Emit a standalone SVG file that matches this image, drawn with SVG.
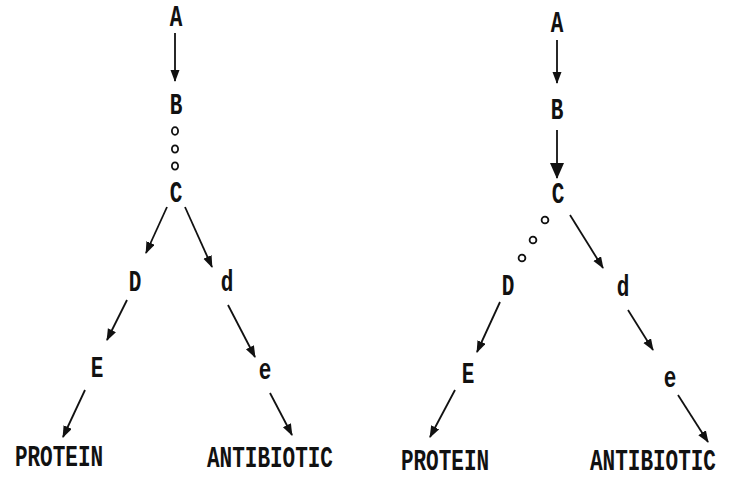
<svg xmlns="http://www.w3.org/2000/svg" width="729" height="478" viewBox="0 0 729 478">
<defs>
<style>
text{font-family:"Liberation Mono","Courier New",monospace;font-weight:bold;font-size:21px;fill:#111;text-anchor:middle}
.c line{stroke:#111;stroke-width:1.8;fill:none}
.a{marker-end:url(#ah)}
.b{marker-end:url(#ahb)}
.o{fill:none;stroke:#111;stroke-width:1.8}
</style>
<marker id="ah" markerUnits="userSpaceOnUse" markerWidth="13" markerHeight="10" refX="11" refY="4.5" orient="auto"><path d="M0,0 L12,4.5 L0,9 z" fill="#111"/></marker>
<marker id="ahb" markerUnits="userSpaceOnUse" markerWidth="18" markerHeight="15" refX="15" refY="7" orient="auto"><path d="M0,0 L16,7 L0,14 z" fill="#111"/></marker>
</defs>
<rect width="729" height="478" fill="#fff"/>
<g id="left">
<g id="L-A"><text transform="translate(176,26) scale(1,1.4)">A</text></g>
<g id="L-B"><text transform="translate(176,114) scale(1,1.4)">B</text></g>
<g id="L-C"><text transform="translate(176,202) scale(1,1.4)">C</text></g>
<g id="L-D"><text transform="translate(135,291) scale(1,1.4)">D</text></g>
<g id="L-d"><text transform="translate(227,291) scale(1,1.4)">d</text></g>
<g id="L-E"><text transform="translate(97,377) scale(1,1.4)">E</text></g>
<g id="L-e"><text transform="translate(265,379) scale(1,1.4)">e</text></g>
<g id="L-PROTEIN"><text transform="translate(59,466) scale(1,1.4)">PROTEIN</text></g>
<g id="L-ANTIBIOTIC"><text transform="translate(270,467) scale(1,1.4)">ANTIBIOTIC</text></g>
</g>
<g id="right">
<g id="R-A"><text transform="translate(557,32) scale(1,1.4)">A</text></g>
<g id="R-B"><text transform="translate(557,119) scale(1,1.4)">B</text></g>
<g id="R-C"><text transform="translate(558,203) scale(1,1.4)">C</text></g>
<g id="R-D"><text transform="translate(508,295) scale(1,1.4)">D</text></g>
<g id="R-d"><text transform="translate(623,296) scale(1,1.4)">d</text></g>
<g id="R-E"><text transform="translate(468,383) scale(1,1.4)">E</text></g>
<g id="R-e"><text transform="translate(670,387) scale(1,1.4)">e</text></g>
<g id="R-PROTEIN"><text transform="translate(445,470) scale(1,1.4)">PROTEIN</text></g>
<g id="R-ANTIBIOTIC"><text transform="translate(653,470) scale(1,1.4)">ANTIBIOTIC</text></g>
</g>
<g id="connectors" class="c">
<line class="a" x1="175" y1="33" x2="175" y2="81"/>
<ellipse class="o" cx="175" cy="131" rx="3.1" ry="3.9"/>
<ellipse class="o" cx="175" cy="149" rx="3.1" ry="3.7"/>
<ellipse class="o" cx="175" cy="166" rx="3.1" ry="3.7"/>
<line class="a" x1="167" y1="207" x2="146" y2="253"/>
<line class="a" x1="185" y1="207" x2="212" y2="267"/>
<line class="a" x1="127" y1="300" x2="107" y2="340"/>
<line class="a" x1="228" y1="305" x2="255" y2="357"/>
<line class="a" x1="85" y1="390" x2="63" y2="437"/>
<line class="a" x1="270" y1="393" x2="292" y2="435"/>
<line class="a" x1="557" y1="40" x2="557" y2="83"/>
<line class="b" x1="557" y1="130" x2="557" y2="178"/>
<circle class="o" cx="545" cy="220" r="3.4"/>
<circle class="o" cx="533" cy="240" r="3.4"/>
<circle class="o" cx="522" cy="258" r="3.4"/>
<line class="a" x1="570" y1="215" x2="603" y2="268"/>
<line class="a" x1="500" y1="302" x2="477" y2="352"/>
<line class="a" x1="628" y1="310" x2="653" y2="350"/>
<line class="a" x1="455" y1="390" x2="430" y2="437"/>
<line class="a" x1="678" y1="395" x2="708" y2="442"/>
</g>
</svg>
